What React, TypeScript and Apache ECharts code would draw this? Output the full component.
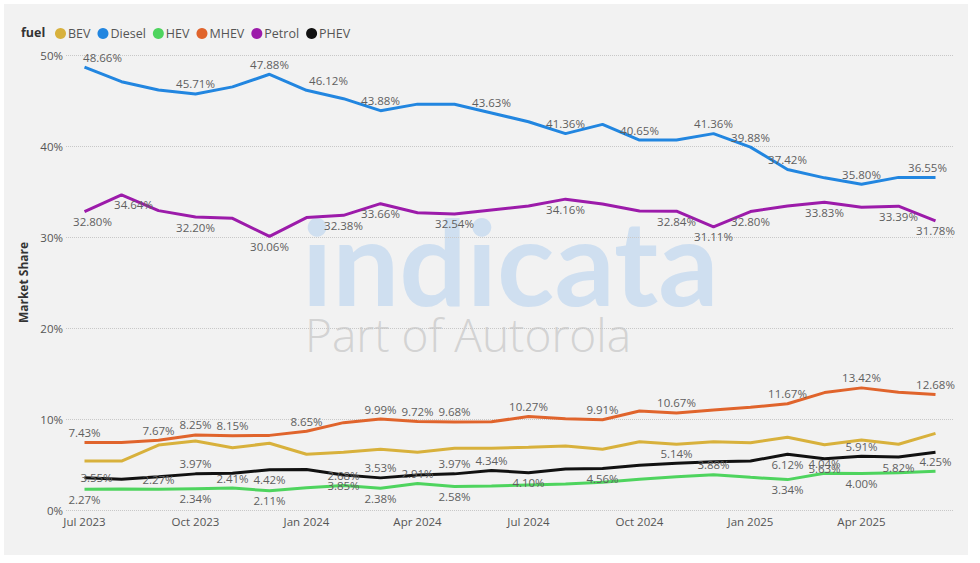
import React, { useEffect, useRef } from "react";
import * as echarts from "echarts";

const months = [
  "Jul 2023", "Aug 2023", "Sep 2023", "Oct 2023", "Nov 2023", "Dec 2023",
  "Jan 2024", "Feb 2024", "Mar 2024", "Apr 2024", "May 2024", "Jun 2024",
  "Jul 2024", "Aug 2024", "Sep 2024", "Oct 2024", "Nov 2024", "Dec 2024",
  "Jan 2025", "Feb 2025", "Mar 2025", "Apr 2025", "May 2025", "Jun 2025",
];

const bev = [5.38, 5.38, 7.14, 7.58, 6.85, 7.33, 6.12, 6.34, 6.67, 6.34, 6.78, 6.78, 6.89, 7.03, 6.67, 7.51, 7.22, 7.51, 7.4, 7.99, 7.18, 7.69, 7.22, 8.42];
const diesel = [48.66, 47.07, 46.15, 45.71, 46.5, 47.88, 46.12, 45.2, 43.88, 44.6, 44.58, 43.63, 42.67, 41.36, 42.38, 40.65, 40.66, 41.36, 39.88, 37.42, 36.5, 35.8, 36.55, 36.55];
const hev = [2.27, 2.3, 2.27, 2.34, 2.41, 2.11, 2.45, 2.68, 2.38, 2.91, 2.58, 2.64, 2.75, 2.86, 3.04, 3.37, 3.66, 3.88, 3.59, 3.34, 4.04, 4.0, 4.1, 4.25];
const mhev = [7.43, 7.43, 7.67, 8.25, 8.15, 8.2, 8.65, 9.6, 9.99, 9.72, 9.68, 9.7, 10.27, 10.04, 9.91, 10.88, 10.67, 10.99, 11.28, 11.67, 12.9, 13.42, 12.93, 12.68];
const petrol = [32.8, 34.64, 32.9, 32.2, 32.05, 30.06, 32.13, 32.38, 33.66, 32.67, 32.54, 32.97, 33.4, 34.16, 33.63, 32.86, 32.84, 31.11, 32.8, 33.4, 33.83, 33.26, 33.39, 31.78];
const phev = [3.55, 3.37, 3.66, 3.97, 4.03, 4.42, 4.45, 3.85, 3.53, 3.85, 3.97, 4.34, 4.1, 4.5, 4.56, 4.91, 5.14, 5.31, 5.38, 6.12, 5.63, 5.91, 5.82, 6.34];

// which points carry a data label, and where
const labelsTop: Record<string, number[]> = {
  BEV: [],
  Diesel: [0, 3, 5, 6, 8, 11, 13, 15, 17, 18, 19, 21, 23],
  HEV: [2, 4, 7, 9, 17, 20, 23],
  MHEV: [0, 2, 3, 4, 6, 8, 9, 10, 12, 14, 16, 19, 21, 23],
  Petrol: [],
  PHEV: [3, 8, 10, 11, 16, 21],
};
const labelsBottom: Record<string, number[]> = {
  BEV: [],
  Diesel: [],
  HEV: [0, 3, 5, 8, 10, 19, 21],
  MHEV: [],
  Petrol: [0, 1, 3, 5, 7, 8, 10, 13, 16, 17, 18, 20, 22, 23],
  PHEV: [5, 7, 12, 14, 19, 20, 22],
};
const labelsInside: Record<string, number[]> = {
  PHEV: [0],
};
const labelShift: Record<string, Record<number, number>> = {
  Diesel: { 0: 18, 6: 22, 23: -8 },
  Petrol: { 0: 8, 1: 12 },
  PHEV: { 0: 12 },
};

const seriesDefs = [
  { name: "BEV", data: bev, color: "#D8B13C" },
  { name: "Diesel", data: diesel, color: "#2286E0" },
  { name: "HEV", data: hev, color: "#4ED45E" },
  { name: "MHEV", data: mhev, color: "#E0642C" },
  { name: "Petrol", data: petrol, color: "#9C1BAA" },
  { name: "PHEV", data: phev, color: "#111111" },
];

export default function App() {
  const ref = useRef<HTMLDivElement>(null);

  useEffect(() => {
    if (!ref.current) return;
    const chart = echarts.init(ref.current, undefined, { renderer: "svg" });
    const labelColor = "#5f5f5f";
    const font = "'Open Sans', 'Noto Sans', sans-serif";

    const series = seriesDefs.map((s) => {
      const top = labelsTop[s.name] || [];
      const bottom = labelsBottom[s.name] || [];
      const inside = labelsInside[s.name] || [];
      const shift = labelShift[s.name] || {};
      return {
        name: s.name,
        type: "line",
        symbol: "circle",
        symbolSize: 0.1,
        showSymbol: true,
        smooth: false,
        lineStyle: { width: 3, color: s.color },
        itemStyle: { color: s.color },
        z: 3,
        data: s.data.map((v, i) => {
          let position: string | null = null;
          if (top.includes(i)) position = "top";
          else if (bottom.includes(i)) position = "bottom";
          else if (inside.includes(i)) position = "inside";
          if (!position) return v;
          return {
            value: v,
            label: {
              show: true,
              position,
              distance: 4,
              offset: [shift[i] || 0, 0],
              formatter: (p: any) => Number(p.value).toFixed(2) + "%",
              color: labelColor,
              fontSize: 11.5,
              fontFamily: font,
            },
          };
        }),
      };
    });

    chart.setOption({
      animation: false,
      backgroundColor: "#ffffff",
      textStyle: { fontFamily: font },
      graphic: [
        {
          type: "rect",
          z: -10,
          shape: { x: 4, y: 4, width: 964, height: 551 },
          style: { fill: "#f2f2f2" },
        },
        {
          type: "text",
          z: -5,
          x: 302,
          y: 200,
          style: {
            text: "indicata",
            font: "bold 119px Lato, 'Open Sans', sans-serif",
            fill: "#cfdff0",
          },
        },
        {
          type: "text",
          z: -5,
          x: 305,
          y: 311,
          style: {
            text: "Part of Autorola",
            font: "300 46px 'Open Sans', Lato, sans-serif",
            fill: "#d3d3d3",
          },
        },
        {
          type: "text",
          x: 21,
          y: 32,
          style: {
            text: "fuel",
            font: "bold 12.5px 'Open Sans', sans-serif",
            fill: "#333333",
            textVerticalAlign: "middle",
          },
        },
      ],
      legend: {
        left: 50,
        top: 22,
        itemWidth: 11,
        itemHeight: 11,
        itemGap: 7,
        icon: "circle",
        textStyle: { color: "#555555", fontSize: 12.5, fontFamily: font, padding: [0, 0, 0, -3] },
        data: seriesDefs.map((s) => s.name),
      },
      grid: { left: 66, right: 26, top: 55, bottom: 53, containLabel: false },
      xAxis: {
        type: "category",
        data: months,
        boundaryGap: true,
        axisLine: { show: false },
        axisTick: { show: false },
        axisLabel: {
          interval: 2,
          color: "#555555",
          fontSize: 11.5,
          margin: 5,
          fontFamily: font,
        },
        splitLine: { show: false },
      },
      yAxis: {
        type: "value",
        min: 0,
        max: 50,
        interval: 10,
        name: "Market Share",
        nameLocation: "middle",
        nameGap: 36,
        nameRotate: 90,
        nameTextStyle: { color: "#333333", fontSize: 12, fontWeight: "bold", fontFamily: font },
        axisLine: { show: false },
        axisTick: { show: false },
        axisLabel: {
          formatter: (v: number) => v + "%",
          color: "#555555",
          fontSize: 11.5,
          margin: 3,
          fontFamily: font,
        },
        splitLine: { show: true, lineStyle: { type: "dotted", color: "#c8c8c8", width: 1 } },
      },
      series,
    });

    return () => chart.dispose();
  }, []);

  return (
    <div
      ref={ref}
      style={{ position: "fixed", left: 0, top: 0, width: 980, height: 563 }}
    />
  );
}
